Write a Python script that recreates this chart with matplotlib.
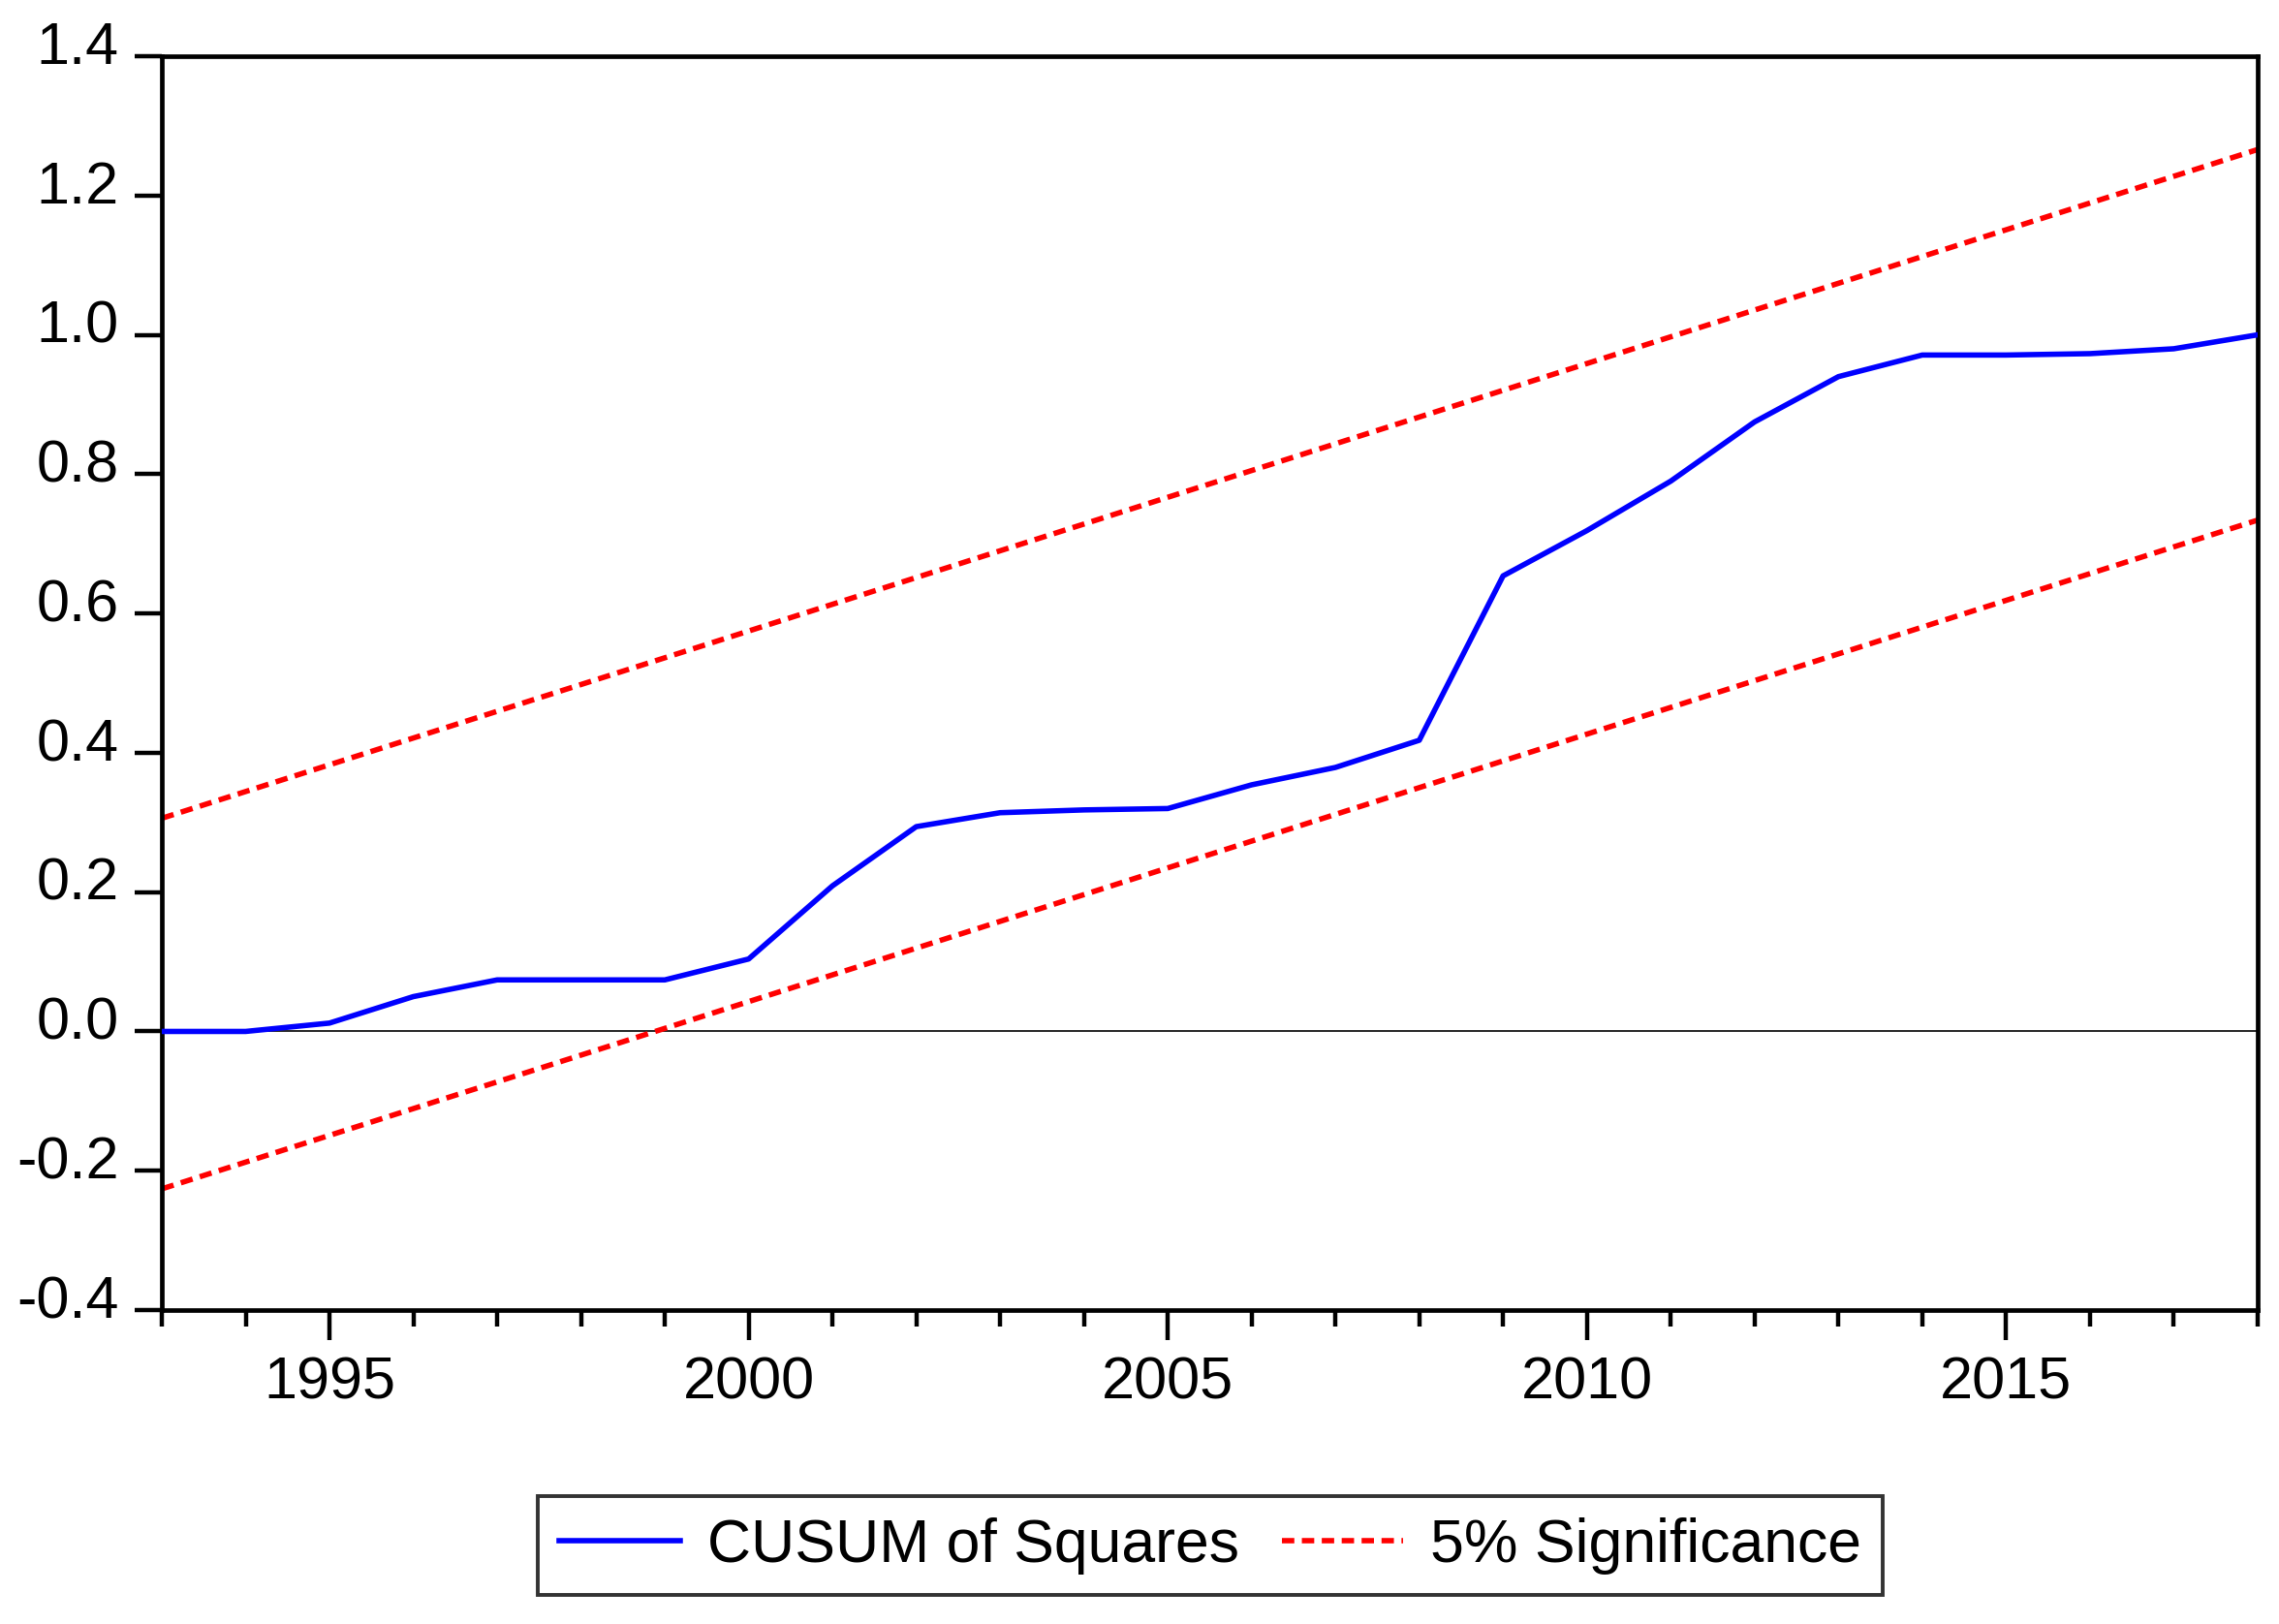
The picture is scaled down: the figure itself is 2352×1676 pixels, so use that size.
import matplotlib
matplotlib.use("Agg")
import matplotlib.pyplot as plt
import matplotlib.transforms as mtransforms
from matplotlib.ticker import MultipleLocator, FuncFormatter

plt.rcParams['font.family'] = ['Liberation Sans', 'DejaVu Sans']

# CUSUM of squares
years = [1993, 1994, 1995, 1996, 1997, 1998, 1999, 2000, 2001, 2002, 2003, 2004, 2005,
         2006, 2007, 2008, 2009, 2010, 2011, 2012, 2013, 2014, 2015, 2016, 2017, 2018]
cusum_sq = [0.000, 0.000, 0.012, 0.050, 0.074, 0.074, 0.074, 0.104, 0.209, 0.294, 0.314, 0.318, 0.320,
            0.354, 0.379, 0.418, 0.654, 0.719, 0.790, 0.875, 0.940, 0.971, 0.971, 0.973, 0.980, 1.000]

# 5% significance bands (straight lines, end points)
band_years = [1993, 2018]
band_upper = [0.306, 1.266]
band_lower = [-0.226, 0.734]

fig = plt.figure(figsize=(11.76, 8.38), dpi=200)
ax = fig.add_axes([0.071, 0.1933, 0.9196, 0.7721])

dash = (0, (2.3, 1.4))
ax.axhline(0, color='black', linewidth=0.6, zorder=1)
ax.plot(years, cusum_sq, color='#0000ff', linewidth=2.0, label='CUSUM of Squares', zorder=3)
ax.plot(band_years, band_upper, color='#ff0000', linewidth=2.0, linestyle=dash,
        label='5% Significance', zorder=2)
ax.plot(band_years, band_lower, color='#ff0000', linewidth=2.0, linestyle=dash, zorder=2)

ax.set_xlim(1993, 2018)
ax.set_ylim(-0.4, 1.4)

ax.xaxis.set_major_locator(MultipleLocator(5))
ax.xaxis.set_minor_locator(MultipleLocator(1))
ax.yaxis.set_major_locator(MultipleLocator(0.2))
ax.yaxis.set_major_formatter(FuncFormatter(lambda v, _: f"{v:.1f}"))

ax.tick_params(axis='x', which='major', direction='out', length=11, width=1.6, pad=6,
               labelsize=22, top=False)
ax.tick_params(axis='x', which='minor', direction='out', length=6, width=1.6, top=False)
ax.tick_params(axis='y', which='major', direction='out', length=10, width=1.6, pad=6,
               labelsize=22, right=False)

for sp in ax.spines.values():
    sp.set_linewidth(1.7)

# labels sit a bit above their ticks, like the original
offset = mtransforms.ScaledTranslation(0, 5 / 72, fig.dpi_scale_trans)
for lab in ax.get_yticklabels():
    lab.set_transform(lab.get_transform() + offset)

leg = fig.legend(loc='center', bbox_to_anchor=(0.531, 0.0483), ncol=2, fontsize=22.5,
                 frameon=True, fancybox=False, edgecolor='black', handlelength=2.0,
                 handletextpad=0.45, columnspacing=0.7, borderpad=0.35)
leg.get_frame().set_linewidth(1.4)

fig.savefig('out.png', dpi=200)
